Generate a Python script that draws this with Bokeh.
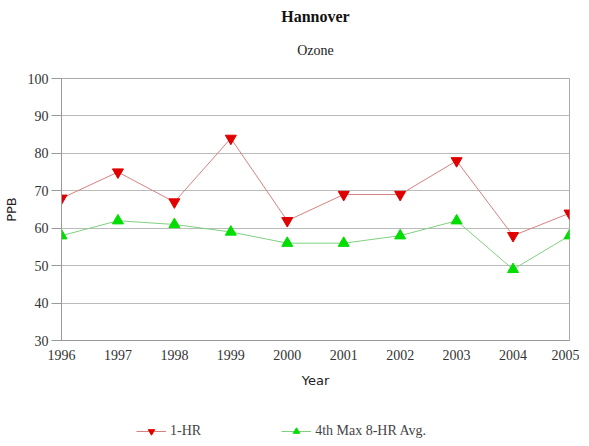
from bokeh.plotting import figure
from bokeh.models import Range1d, Title, Legend, LegendItem, FixedTicker
from bokeh.layouts import column
from bokeh.embed import file_html
from bokeh.resources import INLINE

years = [1996, 1997, 1998, 1999, 2000, 2001, 2002, 2003, 2004, 2005]
one_hr = [68, 75, 67, 84, 62, 69, 69, 78, 58, 64]
eight_hr = [58, 62, 61, 59, 56, 56, 58, 62, 49, 58]
y_ticks = [30, 40, 50, 60, 70, 80, 90, 100]

RED_LINE, RED_MARK = "#d88080", "#e00000"
GREEN_LINE, GREEN_MARK = "#80d080", "#00dd00"

p = figure(frame_width=508, frame_height=262, output_backend="svg", toolbar_location=None,
           x_range=Range1d(1996, 2005), y_range=Range1d(30, 100),
           min_border_left=0, min_border_right=10, min_border_top=0, min_border_bottom=0)
p.title.text = ""
p.title.visible = False
p.add_layout(Title(text="Ozone", align="center", text_font="Liberation Serif",
                   text_font_size="14px", text_font_style="normal", text_color="#222222",
                   vertical_align="top", standoff=37), "above")
p.add_layout(Title(text="Hannover", align="center", text_font="Liberation Serif",
                   text_font_size="16px", text_font_style="bold", text_color="#111111",
                   standoff=0), "above")
p.add_layout(Title(text=" ", text_font_size="3px", standoff=0), "above")

p.xaxis.ticker = FixedTicker(ticks=years)
p.yaxis.ticker = FixedTicker(ticks=y_ticks)
p.xaxis.axis_label = "Year"
p.yaxis.axis_label = "PPB"
for ax in (p.xaxis, p.yaxis):
    ax.major_label_text_font = "Liberation Serif"
    ax.major_label_text_font_size = "14px"
    ax.major_label_text_color = "#333333"
    ax.axis_label_text_font = "DejaVu Sans"
    ax.axis_label_text_font_size = "13px"
    ax.axis_label_text_font_style = "normal"
    ax.axis_label_text_color = "#222222"
    ax.axis_line_color = "#999999"
    ax.major_tick_line_color = "#999999"
    ax.minor_tick_line_color = None
    ax.major_tick_in = 0
p.yaxis.major_tick_out = 10
p.yaxis.major_label_standoff = 3
p.yaxis.axis_label_standoff = 6
p.xaxis.major_tick_out = 0
p.xaxis.major_label_standoff = 9
p.xaxis.axis_label_standoff = 10

p.xgrid.grid_line_color = None
p.ygrid.grid_line_color = "#bbbbbb"
p.outline_line_color = "#aaaaaa"

p.line(years, one_hr, line_color=RED_LINE, line_width=1)
p.scatter(years, one_hr, marker="inverted_triangle", size=11,
          fill_color=RED_MARK, line_color=RED_MARK)
p.line(years, eight_hr, line_color=GREEN_LINE, line_width=1)
p.scatter(years, eight_hr, marker="triangle", size=11,
          fill_color=GREEN_MARK, line_color=GREEN_MARK)

# legend strip below the chart (its series lie outside its visible range)
p2 = figure(width=573, height=49, output_backend="svg", toolbar_location=None,
            x_axis_type=None, y_axis_type=None,
            x_range=Range1d(0, 1), y_range=Range1d(0, 1),
            min_border_left=0, min_border_right=0, min_border_top=0, min_border_bottom=0)
p2.title.visible = False
p2.xgrid.grid_line_color = None
p2.ygrid.grid_line_color = None
p2.outline_line_color = None
l1 = p2.line(years, one_hr, line_color=RED_LINE, line_width=1)
m1 = p2.scatter(years, one_hr, marker="inverted_triangle", size=11, fill_color=RED_MARK, line_color=RED_MARK)
l2 = p2.line(years, eight_hr, line_color=GREEN_LINE, line_width=1)
m2 = p2.scatter(years, eight_hr, marker="triangle", size=11, fill_color=GREEN_MARK, line_color=GREEN_MARK)

legend = Legend(items=[LegendItem(label="1-HR", renderers=[l1, m1]),
                       LegendItem(label="4th Max 8-HR Avg.", renderers=[l2, m2])],
                orientation="horizontal", location=(75, 0), spacing=80,
                label_text_font="Liberation Serif", label_text_font_size="14px",
                label_height=16, glyph_height=16, glyph_width=30, label_standoff=4,
                border_line_color=None, background_fill_alpha=0,
                margin=0, padding=0)
p2.add_layout(legend, "center")

layout = column(p, p2, spacing=0)
open("out.html", "w").write(file_html(layout, INLINE))
